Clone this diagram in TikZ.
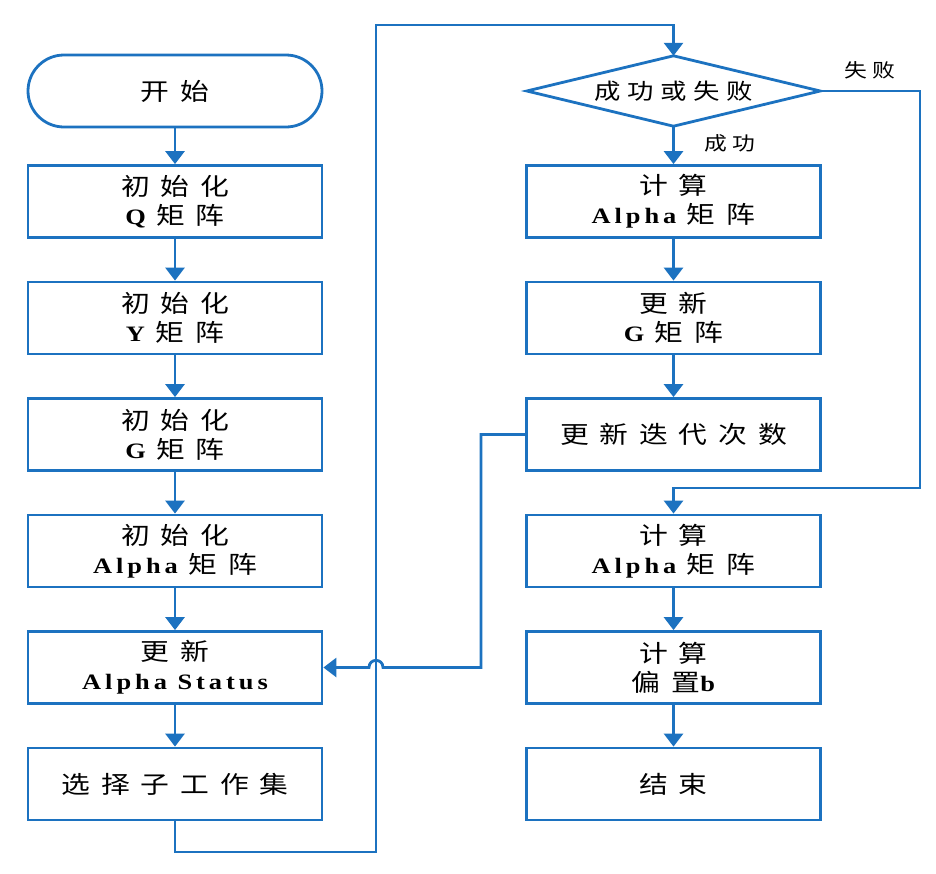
\documentclass[tikz,border=0pt]{standalone}
\usepackage{fontspec}
\setmainfont{Liberation Serif}[FakeStretch=1.2, LetterSpace=18]
\newfontfamily\cjk{Noto Sans CJK SC}[FakeStretch=1.2, LetterSpace=45]
\newfontfamily\cjkdia{Noto Sans CJK SC}[FakeStretch=1.2, LetterSpace=30]
\newcommand\zh[1]{{\fontsize{24}{29}\selectfont\mdseries\cjk #1}}
\usetikzlibrary{arrows.meta}
\definecolor{flowblue}{RGB}{28,114,192}
\begin{document}
\begin{tikzpicture}[x=1pt,y=-1pt,
  every node/.style={font=\fontsize{22}{29}\selectfont\bfseries, text=black},
  box/.style={draw=flowblue, line width=2.8pt, minimum width=294pt, minimum height=72pt, align=center, inner sep=0pt},
  term/.style={box, rounded corners=36pt},
  lab/.style={font=\fontsize{19}{22}\selectfont\mdseries\cjkdia, inner sep=0pt},
  conn/.style={draw=flowblue, line width=2.8pt},
  arr/.style={conn, -{Triangle[width=19pt,length=13pt]}}]
\fill[white] (0,0) rectangle (936,873);
\useasboundingbox (0,0) rectangle (936,873);
% left column
\node[term] (start) at (175,91) {\zh{开始}};
\node[box] (q) at (175,201.5) {\zh{初始化}\\Q \zh{矩阵}};
\node[box] (y) at (175,318) {\zh{初始化}\\Y \zh{矩阵}};
\node[box] (g) at (175,434.5) {\zh{初始化}\\G \zh{矩阵}};
\node[box] (a) at (175,551) {\zh{初始化}\\Alpha \zh{矩阵}};
\node[box] (st) at (175,667.5) {\zh{更新}\\Alpha Status};
\node[box] (ws) at (175,784) {\zh{选择子工作集}};
% right column
\node[minimum width=293pt, minimum height=70pt, inner sep=0pt, font=\fontsize{22}{24}\selectfont\mdseries\cjkdia] (dia) at (673.5,91) {成功或失败};
\draw[conn, line join=miter] (dia.west) -- (dia.north) -- (dia.east) -- (dia.south) -- cycle;
\node[box] (ca) at (673.5,201.5) {\zh{计算}\\Alpha \zh{矩阵}};
\node[box] (ug) at (673.5,318) {\zh{更新}\\G \zh{矩阵}};
\node[box] (it) at (673.5,434.5) {\zh{更新迭代次数}};
\node[box] (ca2) at (673.5,551) {\zh{计算}\\Alpha \zh{矩阵}};
\node[box] (bias) at (673.5,667.5) {\zh{计算}\\\zh{偏置}b};
\node[box] (end) at (673.5,784) {\zh{结束}};
% labels
\node[lab] (fail) at (870,70) {失败};
\node[lab] (succ) at (730,143) {成功};
% connectors left
\draw[arr] (start) -- (q);
\draw[arr] (q) -- (y);
\draw[arr] (y) -- (g);
\draw[arr] (g) -- (a);
\draw[arr] (a) -- (st);
\draw[arr] (st) -- (ws);
% loop to diamond
\coordinate (p1) at (175,852);
\coordinate (p2) at (376,852);
\coordinate (p3) at (376,25);
\coordinate (p4) at (673.5,25);
\draw[arr] (ws.south) -- (p1) -- (p2) -- (p3) -- (p4) -- (dia.north);
% right column
\draw[arr] (dia.south) -- (ca);
\draw[arr] (ca) -- (ug);
\draw[arr] (ug) -- (it);
\draw[arr] (ca2) -- (bias);
\draw[arr] (bias) -- (end);
% failure branch
\coordinate (f1) at (920,91);
\coordinate (f2) at (920,488);
\coordinate (f3) at (673.5,488);
\draw[arr] (dia.east) -- (f1) -- (f2) -- (f3) -- (ca2.north);
% iteration back to status with hop
\coordinate (h1) at (481,434.5);
\coordinate (h2) at (481,667.5);
\coordinate (h3) at (383,667.5);
\coordinate (h4) at (369,667.5);
\draw[arr] (it.west) -- (h1) -- (h2) -- (h3) .. controls (383,658) and (369,658) .. (h4) -- (st.east);
\end{tikzpicture}
\end{document}
